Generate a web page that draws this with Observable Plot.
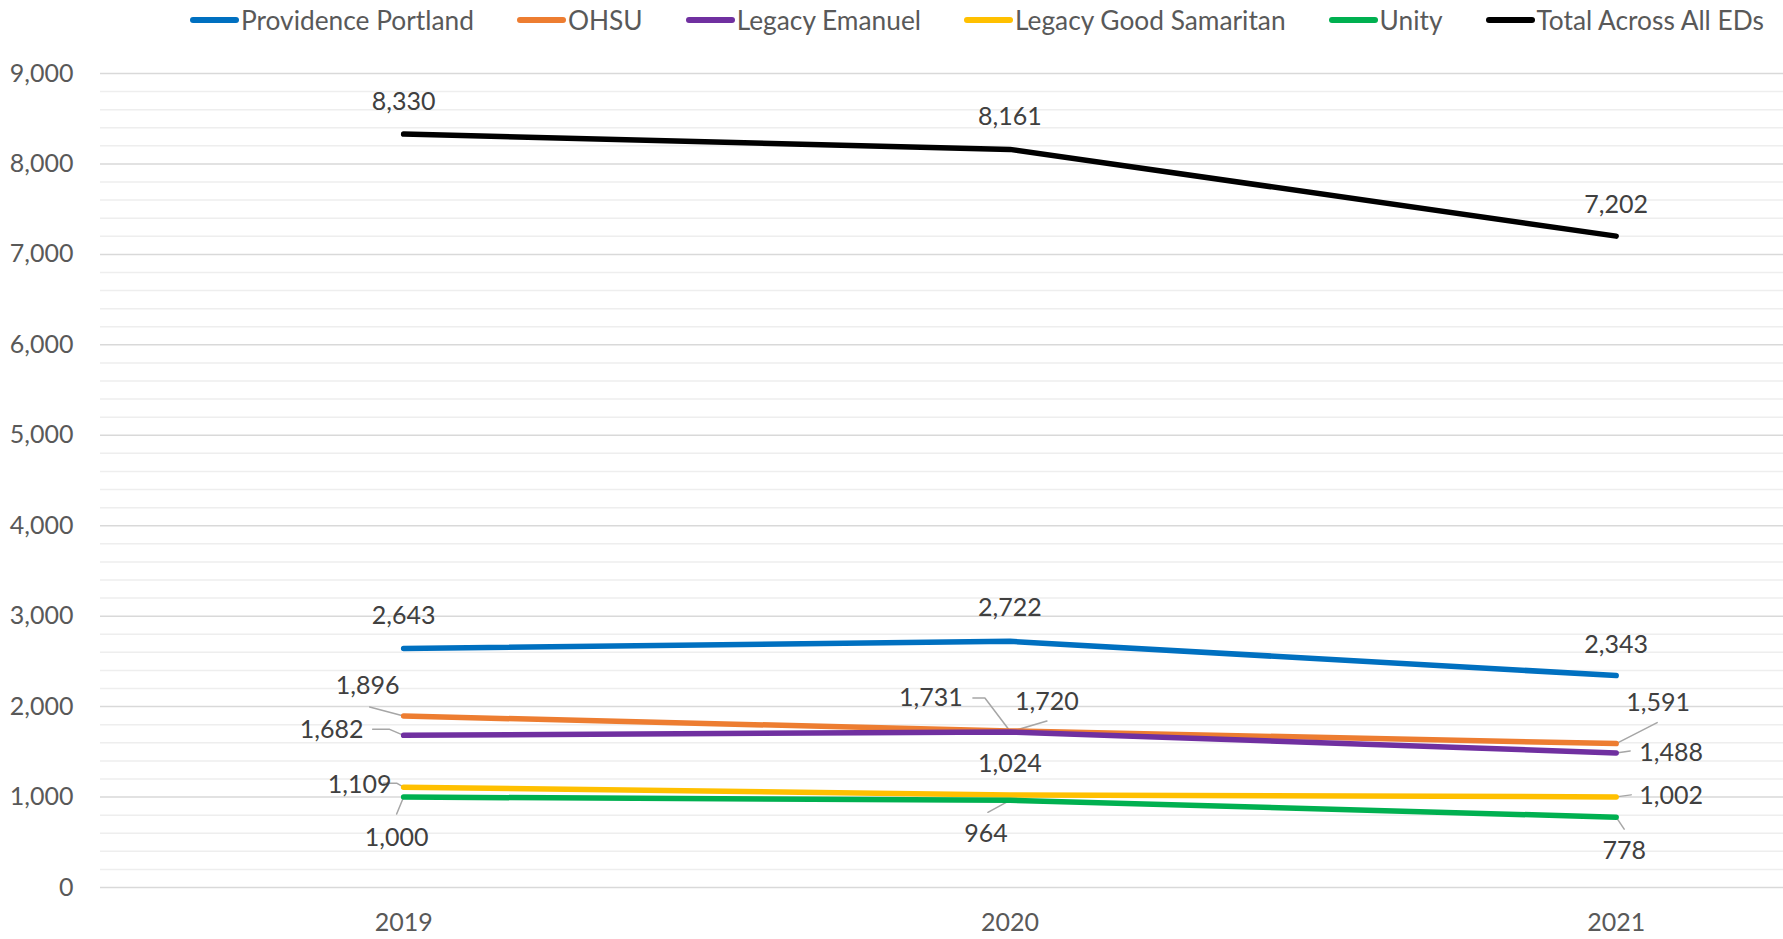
<!DOCTYPE html>
<html>
<head>
<meta charset="utf-8">
<script src="https://cdn.jsdelivr.net/npm/d3@7"></script>
<script src="https://cdn.jsdelivr.net/npm/@observablehq/plot@0.6"></script>
<style>
  html, body { margin: 0; padding: 0; background: #fff; }
  body { width: 1783px; height: 939px; overflow: hidden; font-family: Lato, "Open Sans", sans-serif; }
  #legend { height: 40px; display: flex; align-items: center; padding-left: 190px; box-sizing: border-box; }
  .item { display: flex; align-items: center; margin-right: 43px; font-size: 26.3px; color: #595959; white-space: nowrap; }
  .swatch { width: 49px; height: 6px; border-radius: 3px; margin-right: 2px; }
</style>
</head>
<body>
<div id="legend"></div>
<div id="chart"></div>
<script>
// Emergency department visits by hospital, 2019–2021
const years = [2019, 2020, 2021];
const seriesNames = ["Providence Portland", "OHSU", "Legacy Emanuel", "Legacy Good Samaritan", "Unity", "Total Across All EDs"];
const seriesColors = ["#0070C0", "#ED7D31", "#7030A0", "#FFC000", "#00B050", "#000000"];
const providencePortland = [2643, 2722, 2343];
const ohsu = [1896, 1731, 1591];
const legacyEmanuel = [1682, 1720, 1488];
const legacyGoodSamaritan = [1109, 1024, 1002];
const unity = [1000, 964, 778];
const totalAllEDs = [8330, 8161, 7202];
const yTickValues = [0, 1000, 2000, 3000, 4000, 5000, 6000, 7000, 8000, 9000];

const seriesValues = [providencePortland, ohsu, legacyEmanuel, legacyGoodSamaritan, unity, totalAllEDs];

// Long-format rows for the line mark
const rows = [];
seriesNames.forEach((name, s) => {
  years.forEach((year, i) => rows.push({series: name, year, value: seriesValues[s][i]}));
});

// Legend above the chart
const legend = document.getElementById("legend");
seriesNames.forEach((name, s) => {
  const item = document.createElement("div");
  item.className = "item";
  const sw = document.createElement("div");
  sw.className = "swatch";
  sw.style.background = seriesColors[s];
  const label = document.createElement("span");
  label.textContent = name;
  item.append(sw, label);
  legend.append(item);
});

const width = 1783, height = 899;
const margin = {top: 33, right: 0, bottom: 52, left: 100};
const xOptions = {type: "linear", domain: [2018.5, 2021.276], range: [margin.left, width - margin.right]};
const yOptions = {type: "linear", domain: [0, 9000], range: [height - margin.bottom, margin.top]};
const xs = Plot.scale({x: xOptions});
const ys = Plot.scale({y: yOptions});

// Label placement per series/year: text offset and leader polyline, in pixels from the point
const placement = [
  [{t: [0, -32]}, {t: [0, -33]}, {t: [0, -31]}],
  [{t: [-36, -30], l: [[-34, -9], [0, 0]]}, {t: [-79, -33], l: [[-37, -33], [-25, -33], [0, 0]]}, {t: [42, -41], l: [[41, -21], [0, 0]]}],
  [{t: [-72, -5], l: [[-31, -6], [-14, -6], [0, 0]]}, {t: [37, -30], l: [[37, -11], [0, 0]]}, {t: [55, 0], l: [[14, -2], [0, 0]]}],
  [{t: [-44, -2], l: [[-20, -4], [-7, -4], [0, 0]]}, {t: [0, -31]}, {t: [55, -1], l: [[15, -2], [0, 0]]}],
  [{t: [-7, 41], l: [[-7, 17], [0, 0]]}, {t: [-24, 34], l: [[-22, 12], [0, 0]]}, {t: [8, 34], l: [[8, 12], [0, 0]]}],
  [{t: [0, -32]}, {t: [0, -32]}, {t: [0, -31]}]
];

const labels = [];
const leaders = [];
seriesNames.forEach((name, s) => {
  years.forEach((year, i) => {
    const v = seriesValues[s][i];
    const px = xs.apply(year), py = ys.apply(v);
    const p = placement[s][i];
    labels.push({x: xs.invert(px + p.t[0]), y: ys.invert(py + p.t[1]), text: d3.format(",")(v)});
    if (p.l) p.l.forEach(([dx, dy]) => leaders.push({id: `${s}-${i}`, x: xs.invert(px + dx), y: ys.invert(py + dy)}));
  });
});

const minorTicks = d3.range(0, 9001, 200).filter(d => d % 1000 !== 0);

const chart = Plot.plot({
  width, height,
  marginTop: margin.top, marginBottom: margin.bottom, marginLeft: margin.left, marginRight: margin.right,
  style: {fontFamily: "Lato, 'Open Sans', sans-serif", fontSize: "25px", color: "#595959", background: "#fff"},
  x: {...xOptions, ticks: years, tickFormat: d => String(d), tickSize: 0, tickPadding: 26, label: null},
  y: {...yOptions, ticks: yTickValues, tickFormat: d3.format(","), tickSize: 0, tickPadding: 27, label: null},
  color: {domain: seriesNames, range: seriesColors},
  marks: [
    Plot.ruleY(minorTicks, {stroke: "#eeeeee", strokeWidth: 1.5}),
    Plot.ruleY(yTickValues, {stroke: "#d9d9d9", strokeWidth: 1.5}),
    Plot.line(leaders, {x: "x", y: "y", z: "id", stroke: "#a6a6a6", strokeWidth: 1.5}),
    Plot.line(rows, {x: "year", y: "value", z: "series", stroke: "series", strokeWidth: 5.5, strokeLinecap: "round", strokeLinejoin: "round"}),
    Plot.text(labels, {x: "x", y: "y", text: "text", fill: "#404040", fontSize: 25})
  ]
});
document.getElementById("chart").append(chart);
</script>
</body>
</html>
